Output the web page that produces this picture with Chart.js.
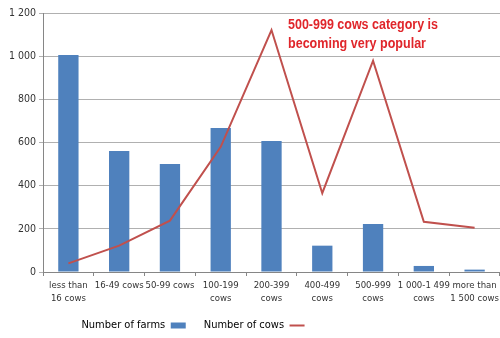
<!DOCTYPE html>
<html>
<head>
<meta charset="utf-8">
<script src="https://cdn.jsdelivr.net/npm/chart.js@4/dist/chart.umd.min.js"></script>
<style>
  html, body { margin: 0; padding: 0; background: #fff; }
  #wrap { position: relative; width: 500px; height: 338px; }
</style>
</head>
<body>
<div id="wrap"><canvas id="cowChart" width="500" height="338"></canvas></div>
<script>
const categories = [
    ["less than", "16 cows"], "16-49 cows", "50-99 cows", ["100-199", "cows"], ["200-399", "cows"],
    ["400-499", "cows"], ["500-999", "cows"], ["1 000-1 499", "cows"], ["more than", "1 500 cows"]
];
const farmsLabel = "Number of farms";
const cowsLabel = "Number of cows";
const farmsData = [1005, 561, 500, 667, 607, 122, 222, 28, 11];
const cowsData = [40, 122, 238, 580, 1121, 365, 979, 233, 205];
const yTicks = [0, 200, 400, 600, 800, 1000, 1200];
const noteLines = ["500-999 cows category is", "becoming very popular"];

const fontFamily = "'DejaVu Sans Condensed', 'Liberation Sans', sans-serif";

// red remark in the upper right, squeezed to the width it has in the original
const notePlugin = {
    id: "note",
    beforeDraw(chart) {
        // legend sits left of centre in the original
        const lg = chart.legend;
        lg.left = -57;
        lg.right = chart.width - 57;
        lg.top = 302;
        lg.bottom = 302 + lg.height;
    },
    afterDraw(chart) {
        const ctx = chart.ctx;
        ctx.save();
        ctx.fillStyle = "#E0262B";
        ctx.font = "bold 14px 'Liberation Sans', sans-serif";
        ctx.textBaseline = "middle";
        ctx.textAlign = "left";
        ctx.fillText(noteLines[0], 288, 25, 150);
        ctx.fillText(noteLines[1], 288, 44, 138);
        ctx.restore();
    }
};

const canvas = document.getElementById("cowChart");
const ctx = canvas.getContext("2d");
const cowChart = new Chart(ctx, {
    type: "bar",
    data: {
        labels: categories,
        datasets: [
            {
                label: farmsLabel,
                data: farmsData,
                backgroundColor: "#4F81BD",
                borderWidth: 0,
                pointStyle: "rect",
                barPercentage: 0.4,
                categoryPercentage: 1.0,
                order: 1,
            },
            {
                label: cowsLabel,
                type: "line",
                data: cowsData,
                borderColor: "#C0504D",
                backgroundColor: "#C0504D",
                borderWidth: 2,
                pointRadius: 0,
                pointStyle: "line",
                tension: 0,
                order: 0,
            },
        ],
    },
    options: {
        responsive: false,
        animation: false,
        layout: { padding: { top: 13, left: 0, right: 0, bottom: -9 } },
        plugins: {
            title: { display: false },
            tooltip: { enabled: false },
            legend: {
                position: "bottom",
                rtl: true,
                labels: {
                    usePointStyle: true,
                    pointStyleWidth: 15,
                    boxHeight: 6,
                    padding: 18,
                    color: "#000",
                    font: { family: fontFamily, size: 11 },
                },
            },
        },
        scales: {
            x: {
                grid: { display: true, drawOnChartArea: false, offset: true, color: "#868686", tickLength: 4 },
                border: { color: "#868686" },
                ticks: {
                    color: "#333",
                    font: { family: fontFamily, size: 9.5, lineHeight: 1.35 },
                    maxRotation: 0,
                    autoSkip: false,
                    padding: 3,
                },
                afterFit(scale) {
                    scale.height = 36;
                    scale.paddingLeft = 0;
                    scale.paddingRight = 0;
                },
            },
            y: {
                min: 0,
                max: 1200,
                afterBuildTicks(scale) { scale.ticks = yTicks.map(v => ({ value: v })); },
                grid: { color: "#B0B0B0", tickLength: 4 },
                border: { color: "#868686" },
                ticks: {
                    color: "#333",
                    font: { family: fontFamily, size: 10.5 },
                    padding: 3,
                    callback: v => String(v).replace(/\B(?=(\d{3})+(?!\d))/g, " "),
                },
                afterFit(scale) { scale.width = 43; },
            },
        },
    },
    plugins: [notePlugin],
});
</script>
</body>
</html>
